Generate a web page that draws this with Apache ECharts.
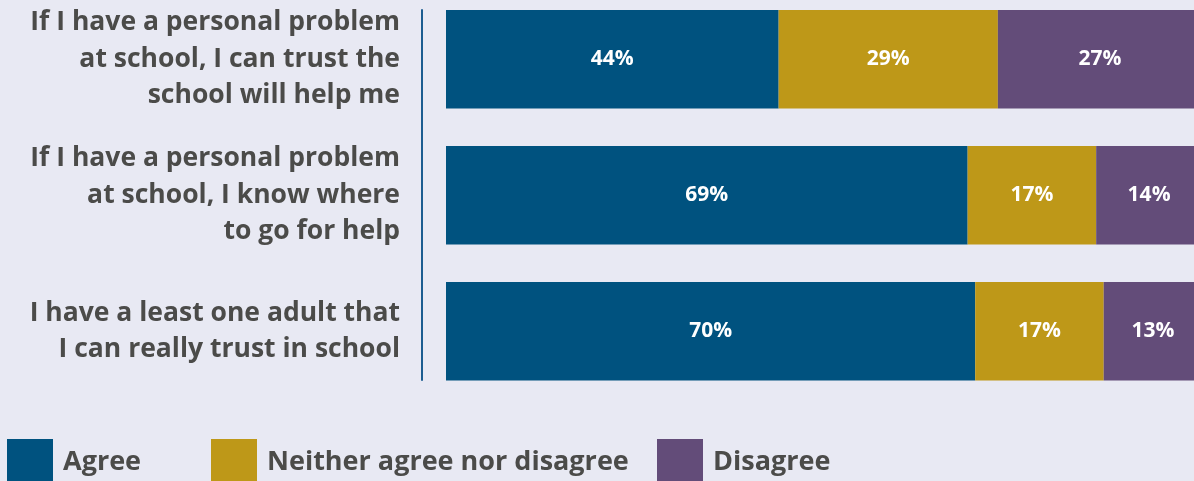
<!DOCTYPE html>
<html>
<head>
<meta charset="utf-8">
<script src="https://cdn.jsdelivr.net/npm/echarts@6/dist/echarts.min.js"></script>
<style>
html,body{margin:0;padding:0;background:#e8e9f3;}
#chart{width:1194px;height:481px;}
</style>
</head>
<body>
<div id="chart"></div>
<script>
const categories = [
  'If I have a personal problem\nat school, I can trust the\nschool will help me',
  'If I have a personal problem\nat school, I know where\nto go for help',
  'I have a least one adult that\nI can really trust in school'
];
const seriesNames = ['Agree', 'Neither agree nor disagree', 'Disagree'];
const agree = [44, 69, 70];
const neither = [29, 17, 17];
const disagree = [27, 14, 13];
const colors = ['#00527f', '#be9818', '#634c79'];

const font = '"Open Sans", "Noto Sans", sans-serif';
const textColor = '#4b4b49';

const chart = echarts.init(document.getElementById('chart'), null, {renderer: 'canvas'});

function barSeries(name, data, color) {
  return {
    name: name,
    type: 'bar',
    stack: 'total',
    xAxisIndex: 0,
    yAxisIndex: 0,
    barWidth: '72.5%',
    data: data,
    itemStyle: {color: color},
    label: {
      show: true,
      position: 'inside',
      formatter: '{c}%',
      color: '#ffffff',
      fontFamily: font,
      fontWeight: 'bold',
      fontSize: 21
    },
    emphasis: {disabled: true}
  };
}

function legendFor(name, left) {
  return {
    data: [name],
    left: left,
    top: 439,
    icon: 'rect',
    itemWidth: 46,
    itemHeight: 46,
    padding: 0,
    selectedMode: false,
    textStyle: {
      color: textColor,
      fontFamily: font,
      fontWeight: 'bold',
      fontSize: 27,
      padding: [0, 0, 0, 5]
    }
  };
}

chart.setOption({
  backgroundColor: '#e8e9f3',
  animation: false,
  grid: [
    {left: 446, right: -8, top: -8.7, bottom: 81.7, containLabel: false, outerBoundsMode: 'none'},
    {left: 422, width: 1, top: 10, bottom: 101, containLabel: false, outerBoundsMode: 'none'}
  ],
  xAxis: [
    {type: 'value', gridIndex: 0, min: 0, max: 100, show: false},
    {type: 'value', gridIndex: 1, show: false}
  ],
  yAxis: [
    {
      type: 'category',
      gridIndex: 0,
      data: categories,
      inverse: true,
      axisLine: {show: false},
      axisTick: {show: false},
      axisLabel: {
        margin: 46,
        color: textColor,
        fontFamily: font,
        fontWeight: 'bold',
        fontSize: 26.5,
        lineHeight: 36.5,
        align: 'right'
      }
    },
    {
      type: 'value',
      gridIndex: 1,
      position: 'left',
      axisLine: {show: true, onZero: false, lineStyle: {color: '#1c5d90', width: 2}},
      axisTick: {show: false},
      axisLabel: {show: false},
      splitLine: {show: false}
    }
  ],
  legend: [
    legendFor(seriesNames[0], 7),
    legendFor(seriesNames[1], 211),
    legendFor(seriesNames[2], 657)
  ],
  series: [
    barSeries(seriesNames[0], agree, colors[0]),
    barSeries(seriesNames[1], neither, colors[1]),
    barSeries(seriesNames[2], disagree, colors[2])
  ]
});
</script>
</body>
</html>
